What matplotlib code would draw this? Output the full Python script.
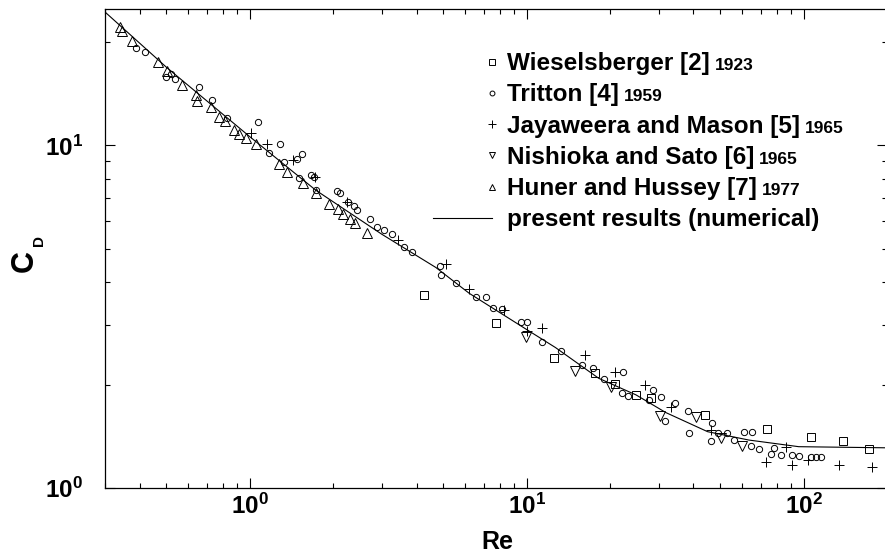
import numpy as np
import matplotlib
matplotlib.use('Agg')
import matplotlib.pyplot as plt
from matplotlib.lines import Line2D
from matplotlib.ticker import FuncFormatter, NullFormatter

plt.rcParams['font.family'] = 'Liberation Sans'
plt.rcParams['font.weight'] = 'bold'
plt.rcParams['mathtext.fontset'] = 'custom'
plt.rcParams['mathtext.rm'] = 'Liberation Sans:bold'
plt.rcParams['mathtext.bf'] = 'Liberation Sans:bold'
plt.rcParams['mathtext.it'] = 'Liberation Sans:bold'

# Wieselsberger [2] 1923
re_wies = [4.25, 7.73, 12.5, 17.7, 20.8, 24.8, 28.0, 43.9, 73.5, 106, 139, 172]
cd_wies = [3.65, 3.03, 2.39, 2.16, 2.01, 1.87, 1.83, 1.63, 1.49, 1.41, 1.37, 1.30]

# Tritton [4] 1959
re_trit = [0.388, 0.418, 0.497, 0.518, 0.536, 0.655, 0.730, 0.826, 1.07, 1.17,
           1.29, 1.33, 1.48, 1.54, 1.50, 1.66, 1.70, 1.73, 2.06, 2.11,
           2.26, 2.37, 2.43, 2.71, 2.87, 3.05, 3.26, 3.60, 3.85, 4.85,
           4.90, 5.54, 6.55, 7.11, 7.54, 8.12, 9.51, 10.0, 11.4, 13.3,
           15.8, 17.3, 19.0, 22.2, 22.0, 23.3, 28.5, 30.5, 27.6, 34.2,
           31.5, 38.1, 38.7, 46.5, 46.2, 48.9, 52.8, 55.9, 60.7, 64.9,
           64.4, 68.8, 78.0, 76.0, 82.6, 90.5, 95.9, 106, 111, 116]
cd_trit = [19.2, 18.7, 15.8, 16.2, 15.6, 14.8, 13.6, 12.0, 11.7, 9.48,
           10.1, 8.97, 9.10, 9.41, 8.01, 8.18, 8.07, 7.39, 7.34, 7.24,
           6.82, 6.64, 6.47, 6.09, 5.77, 5.65, 5.50, 5.04, 4.87, 4.44,
           4.18, 3.96, 3.60, 3.60, 3.35, 3.32, 3.05, 3.05, 2.67, 2.51,
           2.28, 2.24, 2.08, 2.18, 1.89, 1.85, 1.93, 1.84, 1.81, 1.77,
           1.57, 1.68, 1.45, 1.55, 1.37, 1.45, 1.45, 1.38, 1.46, 1.46,
           1.33, 1.30, 1.31, 1.26, 1.25, 1.25, 1.24, 1.23, 1.23, 1.23]

# Jayaweera and Mason [5] 1965
re_jaya = [1.01, 1.15, 1.43, 1.72, 2.24, 3.42, 5.10, 6.17, 8.26, 10.0, 11.4,
           16.3, 20.8, 26.7, 33.1, 46.2, 72.9, 86.1, 90.5, 104, 134, 176]
cd_jaya = [10.9, 10.1, 9.04, 8.07, 6.82, 5.28, 4.50, 3.80, 3.30, 2.87, 2.93,
           2.44, 2.18, 2.00, 1.72, 1.48, 1.19, 1.32, 1.17, 1.21, 1.17, 1.15]

# Nishioka and Sato [6] 1965
re_nish = [9.92, 15.0, 20.1, 30.2, 40.7, 50.2, 59.7]
cd_nish = [2.76, 2.19, 1.97, 1.62, 1.61, 1.40, 1.33]

# Huner and Hussey [7] 1977
re_hun = [0.340, 0.345, 0.375, 0.466, 0.501, 0.568, 0.638, 0.644, 0.723, 0.773,
          0.812, 0.875, 0.912, 0.968, 1.05, 1.27, 1.36, 1.55, 1.73, 1.94,
          2.08, 2.17, 2.30, 2.39, 2.64]
cd_hun = [22.1, 21.5, 20.2, 17.5, 16.5, 15.0, 14.0, 13.5, 12.9, 12.1,
          11.8, 11.1, 10.8, 10.5, 10.1, 8.8, 8.34, 7.75, 7.24, 6.73,
          6.51, 6.29, 6.09, 5.92, 5.54]

# present results (numerical)
re_num = [0.3, 0.5, 1.0, 1.73, 3.0, 4.7, 6.2, 10, 12.7, 18.2, 24.8, 31.8, 45, 63.5, 96, 200]
cd_num = [24.5, 16.9, 10.6, 7.4, 5.5, 4.4, 3.7, 2.9, 2.57, 2.09, 1.87, 1.66, 1.46, 1.38, 1.32, 1.31]

W, H = 885, 558
fig = plt.figure(figsize=(W / 100, H / 100), dpi=100)
ax = fig.add_axes([105 / W, 1 - 488 / H, 782 / W, 479 / H])

mk = dict(linestyle='none', mfc='none', mec='black', mew=0.7)
ax.plot(re_num, cd_num, '-', color='black', lw=0.8)
ax.plot(re_wies, cd_wies, marker='s', ms=6.3, **mk)
ax.plot(re_trit, cd_trit, marker='o', ms=4.5, **mk)
ax.plot(re_jaya, cd_jaya, marker='+', ms=7, **mk)
ax.plot(re_nish, cd_nish, marker='v', ms=7.5, **mk)
ax.plot(re_hun, cd_hun, marker='^', ms=7.5, **mk)

ax.set_xscale('log')
ax.set_yscale('log')
ax.set_xlim(0.3, 200)
ax.set_ylim(1, 25)

pow10 = FuncFormatter(lambda v, p: r'$\mathbf{10^{%d}}$' % round(np.log10(v)))
ax.xaxis.set_major_formatter(pow10)
ax.yaxis.set_major_formatter(pow10)
ax.xaxis.set_minor_formatter(NullFormatter())
ax.yaxis.set_minor_formatter(NullFormatter())
ax.tick_params(which='both', direction='in', top=True, right=True, width=0.8)
ax.tick_params(which='major', length=7, labelsize=17.5)
ax.tick_params(which='minor', length=3.8)
ax.tick_params(axis='x', pad=4)
ax.tick_params(axis='y', pad=16)
for s in ax.spines.values():
    s.set_linewidth(0.9)

# axis titles
fig.text(33 / W, 1 - 261 / H, 'C', rotation=90, rotation_mode='anchor',
         ha='center', va='baseline', fontsize=22)
fig.text(43 / W, 1 - 241 / H, 'D', rotation=90, rotation_mode='anchor',
         ha='center', va='baseline', fontsize=11)
fig.text(497 / W, 1 - 549 / H, 'Re', ha='center', va='baseline', fontsize=18)

# hand-built legend
leg_labels = ['Wieselsberger [2]', 'Tritton [4]', 'Jayaweera and Mason [5]',
              'Nishioka and Sato [6]', 'Huner and Hussey [7]',
              'present results (numerical)']
leg_years = ['1923', '1959', '1965', '1965', '1977', '']
leg_marks = [('s', 4.5), ('o', 3.5), ('+', 5.5), ('v', 5), ('^', 5), (None, 0)]

for i, (lab, yr, (m, ms)) in enumerate(zip(leg_labels, leg_years, leg_marks)):
    yb = 0.872 - i * 0.0651
    ym = yb + 8.5 / 479
    if m is None:
        ax.add_line(Line2D([0.419, 0.495], [ym, ym], transform=ax.transAxes,
                           color='black', lw=0.8))
    else:
        ax.add_line(Line2D([0.495], [ym], transform=ax.transAxes, marker=m,
                           ms=ms, mfc='none', mec='black', mew=0.7,
                           linestyle='none'))
    t = ax.text(0.514, yb, lab, transform=ax.transAxes, fontsize=17.5,
                va='baseline', ha='left')
    if yr:
        ax.annotate(yr, xy=(1, yb), xycoords=(t, ax.transAxes),
                    xytext=(3.5, 0), textcoords='offset points',
                    fontsize=12.5, va='baseline', ha='left')

fig.savefig('out.png', dpi=100)
